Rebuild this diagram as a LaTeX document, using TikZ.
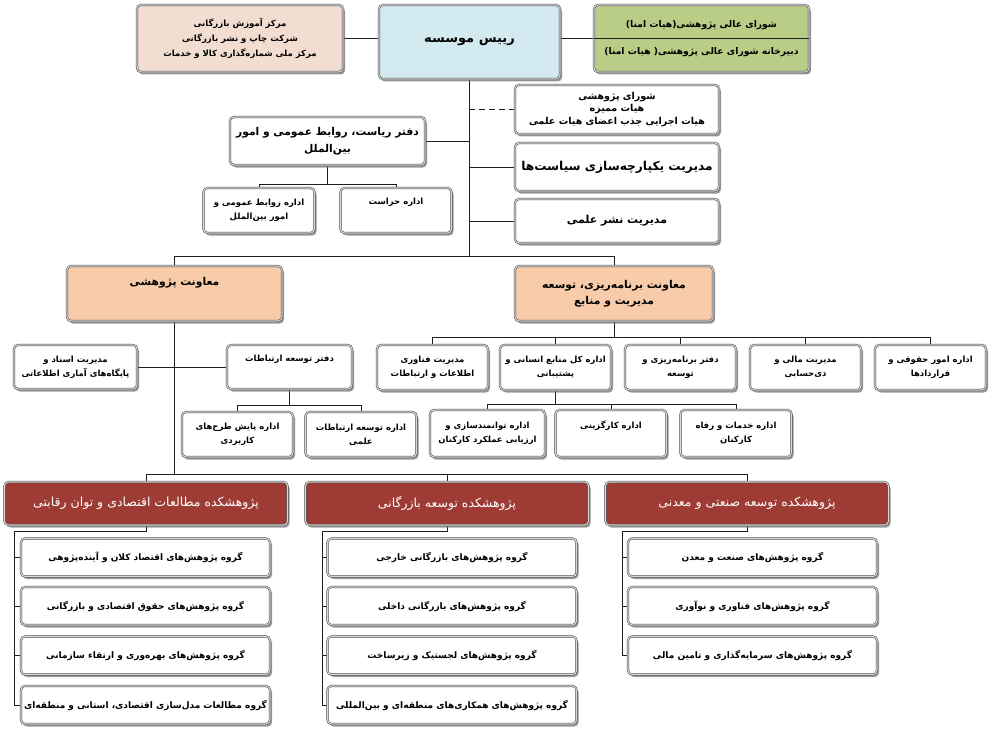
\documentclass[tikz,border=0pt]{standalone}
\usepackage{fontspec}
\usetikzlibrary{shadows,backgrounds}
\newfontfamily\farsi[Script=Arabic]{DejaVu Sans}
\TeXXeTstate=1
\newcommand\fa[1]{\beginR #1\endR}
\definecolor{peach}{RGB}{242,221,209}
\definecolor{ceoblue}{RGB}{211,234,241}
\definecolor{boardgreen}{RGB}{186,205,134}
\definecolor{vporange}{RGB}{248,204,170}
\definecolor{instred}{RGB}{157,59,52}
\definecolor{linegray}{RGB}{30,30,30}
\begin{document}
\begin{tikzpicture}[x=1pt,y=-1pt,
  box/.style={draw=black!75, line width=0.5pt, double=white!85!black, double distance=1.1pt,
    rounded corners=4pt, fill=white,
    drop shadow={shadow xshift=2pt,shadow yshift=-2.5pt,fill=black!55,opacity=.7},
    align=center, inner sep=1pt, text=black,
    font=\farsi\bfseries\fontsize{8.5}{14}\selectfont},
  ln/.style={draw=linegray, line width=0.7pt},
  inst/.style={box, fill=instred, text=white, minimum width=283pt, minimum height=43pt,
    font=\farsi\fontsize{12.5}{14}\selectfont},
  grp/.style={box, minimum width=249pt, minimum height=38pt,
    font=\farsi\bfseries\fontsize{9}{12}\selectfont},
  small/.style={box, minimum width=111pt, minimum height=45pt},
]
\useasboundingbox (0,0) rectangle (998,741);

% ---------- top row ----------
\node[box, fill=peach, minimum width=206pt, minimum height=67pt,
      font=\farsi\bfseries\fontsize{8.5}{15}\selectfont] (pk) at (240,38.5)
  {\fa{مرکز آموزش بازرگانی}\\\fa{شرکت چاپ و نشر بازرگانی}\\\fa{مرکز ملی شماره‌گذاری کالا و خدمات}};
\node[box, fill=ceoblue, minimum width=181pt, minimum height=74pt,
      font=\farsi\bfseries\fontsize{13}{16}\selectfont] (ceo) at (469.5,42) {\fa{رییس موسسه}};
\node[box, fill=boardgreen, minimum width=215pt, minimum height=67pt,
      font=\farsi\bfseries\fontsize{9.2}{27}\selectfont] (gr) at (701.5,38.5)
  {\fa{شورای عالی پژوهشی(هیات امنا)}\\\fa{دبیرخانه شورای عالی پژوهشی( هیات امنا)}};
\draw[ln] (gr.west) -- (gr.east);

% ---------- office boxes ----------
\node[box, minimum width=204pt, minimum height=49pt, font=\farsi\bfseries\fontsize{9.5}{12.5}\selectfont] (sh) at (617,109.5)
  {\fa{شورای پژوهشی}\\\fa{هیات ممیزه}\\\fa{هیات اجرایی جذب اعضای هیات علمی}};
\node[box, minimum width=204pt, minimum height=48pt, font=\farsi\bfseries\fontsize{12.2}{14}\selectfont] (ys) at (617,167)
  {\fa{مدیریت یکپارچه‌سازی سیاست‌ها}};
\node[box, minimum width=204pt, minimum height=44pt, font=\farsi\bfseries\fontsize{11}{13}\selectfont] (ns) at (617,221)
  {\fa{مدیریت نشر علمی}};
\node[box, minimum width=195pt, minimum height=48pt, font=\farsi\bfseries\fontsize{10.7}{17}\selectfont] (dr) at (327.5,141)
  {\fa{دفتر ریاست، روابط عمومی و امور}\\\fa{بین‌الملل}};
\node[small] (rr) at (259,210.5) {\fa{اداره روابط عمومی و}\\\fa{امور بین‌الملل}};
\node[small] (hr) at (396,210.5) {\fa{اداره حراست}\\[4pt]};

% ---------- deputies ----------
\node[box, fill=vporange, minimum width=215pt, minimum height=55pt,
      font=\farsi\bfseries\fontsize{10.8}{16}\selectfont] (mp) at (174.5,293.5) {\fa{معاونت پژوهشی}\\[8pt]};
\node[box, fill=vporange, minimum width=198pt, minimum height=55pt,
      font=\farsi\bfseries\fontsize{10.8}{16}\selectfont] (mb) at (614,293.5)
  {\fa{معاونت برنامه‌ریزی، توسعه}\\\fa{مدیریت و منابع}};

% ---------- research deputy units ----------
\node[box, minimum width=123pt, minimum height=44pt] (as) at (75.5,367)
  {\fa{مدیریت اسناد و}\\\fa{پایگاه‌های آماری اطلاعاتی}};
\node[box, minimum width=125pt, minimum height=44pt] (dt) at (289.5,367) {\fa{دفتر توسعه ارتباطات}\\[4pt]};
\node[small] (pa) at (237.5,434.5) {\fa{اداره پایش طرح‌های}\\\fa{کاربردی}};
\node[small] (ta) at (361,434.5) {\fa{اداره توسعه ارتباطات}\\\fa{علمی}};

% ---------- planning deputy units ----------
\node[small] (fa) at (432.5,367.5) {\fa{مدیریت فناوری}\\\fa{اطلاعات و ارتباطات}};
\node[small] (mk) at (555.5,367.5) {\fa{اداره کل منابع انسانی و}\\\fa{پشتیبانی}};
\node[small] (db) at (680.5,367.5) {\fa{دفتر برنامه‌ریزی و}\\\fa{توسعه}};
\node[small] (mm) at (805.5,367.5) {\fa{مدیریت مالی و}\\\fa{ذی‌حسابی}};
\node[small] (hq) at (930.5,367.5) {\fa{اداره امور حقوقی و}\\\fa{قراردادها}};
\node[small, minimum width=115pt, minimum height=47pt] (tv) at (487.5,433.5) {\fa{اداره توانمندسازی و}\\\fa{ارزیابی عملکرد کارکنان}};
\node[small, minimum height=47pt] (kg) at (611,433.5) {\fa{اداره کارگزینی}\\[4pt]};
\node[small, minimum height=47pt] (kh) at (736,433.5) {\fa{اداره خدمات و رفاه}\\\fa{کارکنان}};

% ---------- institutes ----------
\node[inst] (p1) at (146,503.5) {\fa{پژوهشکده مطالعات اقتصادی و توان رقابتی}};
\node[inst] (p2) at (447,503.5) {\fa{پژوهشکده توسعه بازرگانی}};
\node[inst] (p3) at (747,503.5) {\fa{پژوهشکده توسعه صنعتی و معدنی}};

\node[grp] (g11) at (145.5,557.5) {\fa{گروه پژوهش‌های اقتصاد کلان و آینده‌پژوهی}};
\node[grp] (g12) at (145.5,606) {\fa{گروه پژوهش‌های حقوق اقتصادی و بازرگانی}};
\node[grp] (g13) at (145.5,655.5) {\fa{گروه پژوهش‌های بهره‌وری و ارتقاء سازمانی}};
\node[grp] (g14) at (145.5,705) {\fa{گروه مطالعات مدل‌سازی اقتصادی، استانی و منطقه‌ای}};

\node[grp] (g21) at (452,557.5) {\fa{گروه پژوهش‌های بازرگانی خارجی}};
\node[grp] (g22) at (452,606) {\fa{گروه پژوهش‌های بازرگانی داخلی}};
\node[grp] (g23) at (452,655.5) {\fa{گروه پژوهش‌های لجستیک و زیرساخت}};
\node[grp] (g24) at (452,705) {\fa{گروه پژوهش‌های همکاری‌های منطقه‌ای و بین‌المللی}};

\node[grp] (g31) at (752.5,557.5) {\fa{گروه پژوهش‌های صنعت و معدن}};
\node[grp] (g32) at (752.5,606) {\fa{گروه پژوهش‌های فناوری و نوآوری}};
\node[grp] (g33) at (752.5,655.5) {\fa{گروه پژوهش‌های سرمایه‌گذاری و تامین مالی}};

% ---------- connectors ----------
\begin{scope}[on background layer]
\fill[white] (0,0) rectangle (998,741);
\coordinate (Htop) at (0,256);
\coordinate (Hdr) at (0,184);
\coordinate (Hmb) at (0,337);
\coordinate (Hdt) at (0,405);
\coordinate (Hmk) at (0,404);
\coordinate (Hp) at (0,474);
\coordinate (C1) at (14,531);
\coordinate (C2) at (322,531);
\coordinate (C3) at (622,531);

\draw[ln] (pk.east) -- (pk.east -| ceo.west);
\draw[ln] (gr.west -| ceo.east) -- (gr.west);
\draw[ln] (ceo.south) -- (ceo.south |- Htop);
\draw[ln] (mp.north) -- (mp.north |- Htop) -- (mb.north |- Htop) -- (mb.north);
\draw[ln, dash pattern=on 6pt off 4pt] (sh.west) -- (sh.west -| ceo.south);
\draw[ln] (ys.west) -- (ys.west -| ceo.south);
\draw[ln] (ns.west) -- (ns.west -| ceo.south);
\draw[ln] (dr.east) -- (dr.east -| ceo.south);

\draw[ln] (dr.south) -- (dr.south |- Hdr);
\draw[ln] (rr.north) -- (rr.north |- Hdr) -- (hr.north |- Hdr) -- (hr.north);

\draw[ln] (mp.south) -- (mp.south |- Hp);
\draw[ln] (p1.north) -- (p1.north |- Hp) -- (p3.north |- Hp) -- (p3.north);
\draw[ln] (p2.north) -- (p2.north |- Hp);

\draw[ln] (as.east) -- (dt.west);
\draw[ln] (dt.south) -- (dt.south |- Hdt);
\draw[ln] (pa.north) -- (pa.north |- Hdt) -- (ta.north |- Hdt) -- (ta.north);

\draw[ln] (mb.south) -- (mb.south |- Hmb);
\draw[ln] (fa.north) -- (fa.north |- Hmb) -- (hq.north |- Hmb) -- (hq.north);
\foreach \n in {mk,db,mm} \draw[ln] (\n.north) -- (\n.north |- Hmb);

\draw[ln] (mk.south) -- (mk.south |- Hmk);
\draw[ln] (tv.north) -- (tv.north |- Hmk) -- (kh.north |- Hmk) -- (kh.north);
\draw[ln] (kg.north) -- (kg.north |- Hmk);

\draw[ln] (p1.south) -- (p1.south |- C1) -- (C1) -- (C1 |- g14.west);
\foreach \g in {g11,g12,g13,g14} \draw[ln] (C1 |- \g.west) -- (\g.west);
\draw[ln] (p2.south) -- (p2.south |- C2) -- (C2) -- (C2 |- g24.west);
\foreach \g in {g21,g22,g23,g24} \draw[ln] (C2 |- \g.west) -- (\g.west);
\draw[ln] (p3.south) -- (p3.south |- C3) -- (C3) -- (C3 |- g33.west);
\foreach \g in {g31,g32,g33} \draw[ln] (C3 |- \g.west) -- (\g.west);
\end{scope}
\end{tikzpicture}
\end{document}
